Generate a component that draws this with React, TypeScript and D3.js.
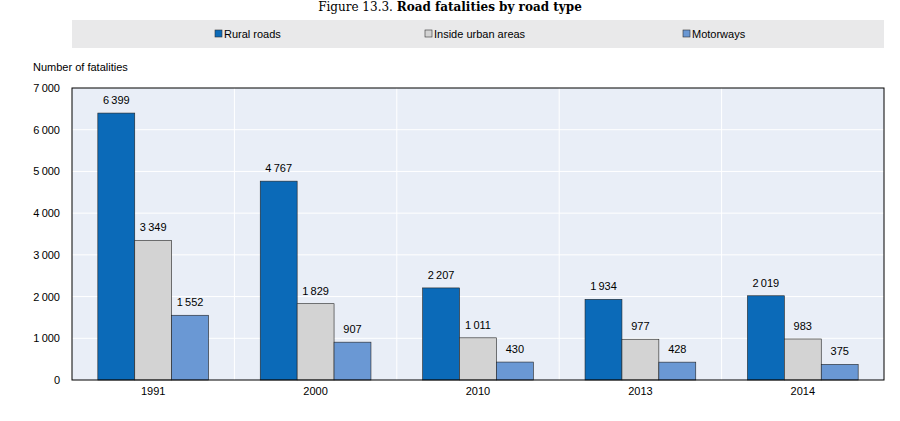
import * as d3 from 'd3';

const categories = ['1991', '2000', '2010', '2013', '2014'];
const seriesNames = ['Rural roads', 'Inside urban areas', 'Motorways'];
const rural = [6399, 4767, 2207, 1934, 2019];
const urban = [3349, 1829, 1011, 977, 983];
const motorways = [1552, 907, 430, 428, 375];
const yTicks = [0, 1000, 2000, 3000, 4000, 5000, 6000, 7000];
const colors = ['#0b6ab8', '#d3d3d3', '#6a98d4'];

const W = 900, H = 421;
const m = { left: 72, right: 884, top: 88, bottom: 380 };
const fmt = (v: number) => d3.format(',')(v).replace(/,/g, '\u2009');

export default function App() {
  const series = [rural, urban, motorways];
  const x = d3.scaleBand().domain(categories).range([m.left, m.right]);
  const inner = d3.scaleBand().domain(['0', '1', '2']).range([0, x.bandwidth()]).paddingOuter(0.7).paddingInner(0);
  const y = d3.scaleLinear().domain([0, 7000]).range([m.bottom, m.top]);
  const font = 'Liberation Sans, Arial, sans-serif';
  return (
    <svg width={W} height={H} style={{ position: 'absolute', left: 0, top: 0 }} fontFamily={font}>
      <rect width={W} height={H} fill="#fff" />
      <text x={450} y={11} textAnchor="middle" fontFamily="DejaVu Serif, serif" fontSize={12}>
        Figure 13.3. <tspan fontWeight="bold">Road fatalities by road type</tspan>
      </text>
      <rect x={72} y={20} width={812} height={28} fill="#e9e9ea" />
      {seriesNames.map((s, i) => {
        const lx = [215, 425, 683][i];
        return (
          <g key={s}>
            <rect x={lx} y={30} width={7} height={7} fill={colors[i]} stroke="#333" strokeWidth={0.6} />
            <text x={lx + 9} y={37.5} fontSize={11}>{s}</text>
          </g>
        );
      })}
      <text x={33} y={71} fontSize={11}>Number of fatalities</text>
      <rect x={m.left} y={m.top} width={m.right - m.left} height={m.bottom - m.top} fill="#e9eef7" />
      {yTicks.slice(1, -1).map(t => (
        <line key={t} x1={m.left} x2={m.right} y1={y(t)} y2={y(t)} stroke="#fff" strokeWidth={1} />
      ))}
      {categories.slice(1).map(c => (
        <line key={c} x1={x(c)} x2={x(c)} y1={m.top} y2={m.bottom} stroke="#fff" strokeWidth={1} />
      ))}
      {yTicks.map(t => (
        <text key={t} x={m.left - 12} y={y(t) + 4} textAnchor="end" fontSize={11}>{fmt(t)}</text>
      ))}
      {categories.map((c, ci) => (
        <g key={c}>
          {series.map((s, si) => {
            const bx = (x(c) as number) + (inner(String(si)) as number);
            const bw = inner.bandwidth();
            return (
              <g key={si}>
                <rect x={bx} y={y(s[ci])} width={bw} height={m.bottom - y(s[ci])} fill={colors[si]} stroke="#222" strokeWidth={0.6} />
                <text x={bx + bw / 2} y={y(s[ci]) - 9} textAnchor="middle" fontSize={11}>{fmt(s[ci])}</text>
              </g>
            );
          })}
          <text x={(x(c) as number) + x.bandwidth() / 2} y={m.bottom + 15} textAnchor="middle" fontSize={11}>{c}</text>
        </g>
      ))}
      <rect x={m.left} y={m.top} width={m.right - m.left} height={m.bottom - m.top} fill="none" stroke="#000" strokeWidth={1} />
    </svg>
  );
}
